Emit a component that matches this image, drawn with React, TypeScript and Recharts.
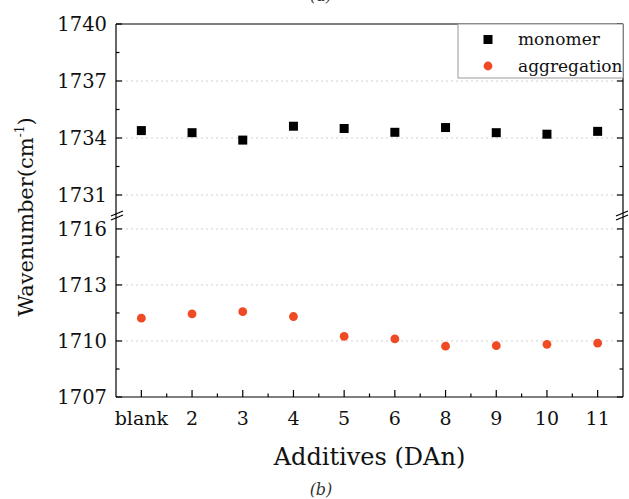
import React from "react";
import { CartesianGrid, Scatter, ScatterChart, XAxis, YAxis } from "recharts";

const CATEGORIES = ["blank", "2", "3", "4", "5", "6", "8", "9", "10", "11"];
const MONOMER = [1734.39, 1734.28, 1733.89, 1734.62, 1734.5, 1734.3, 1734.55, 1734.28, 1734.2, 1734.35];
const AGGREGATION = [1711.22, 1711.45, 1711.57, 1711.31, 1710.25, 1710.11, 1709.72, 1709.75, 1709.82, 1709.88];

const UPPER_TICKS = [1731, 1734, 1737, 1740];
const UPPER_MINOR = [1732.5, 1735.5, 1738.5];
const LOWER_TICKS = [1707, 1710, 1713, 1716];
const LOWER_MINOR = [1708.5, 1711.5, 1714.5];
const X_TICKS = [0, 1, 2, 3, 4, 5, 6, 7, 8, 9];
const X_MINOR = [0.5, 1.5, 2.5, 3.5, 4.5, 5.5, 6.5, 7.5, 8.5];

const FONT = "'DejaVu Serif', serif";
const TM = 9;
const W = 629;
const H = 499;

const monomerData = MONOMER.map((y, i) => ({ x: i, y }));
const aggregationData = AGGREGATION.map((y, i) => ({ x: i, y }));

const serif = (size: number, italic = false): React.CSSProperties => ({
  fontFamily: FONT,
  fontSize: size,
  fontStyle: italic ? "italic" : "normal",
});

function makeYTick(side: "left" | "right", majors: number[]) {
  return (props: any) => {
    const { x, y, payload } = props;
    const v = payload.value;
    const major = majors.includes(v);
    const ax = side === "left" ? x + TM : x - TM;
    const dir = side === "left" ? 1 : -1;
    const len = major ? 6 : 3.5;
    return (
      <g>
        <line x1={ax} x2={ax + dir * len} y1={y} y2={y} stroke="#000" strokeWidth={1.2} />
        {side === "left" && major && (
          <text x={x} y={y} dy="0.36em" textAnchor="end" style={serif(19.5)} fill="#111">
            {v}
          </text>
        )}
      </g>
    );
  };
}

const XTick = (props: any) => {
  const { x, y, payload } = props;
  const v = payload.value;
  const major = Number.isInteger(v);
  const ay = y - TM;
  return (
    <g>
      <line x1={x} x2={x} y1={ay} y2={ay - (major ? 7 : 3.5)} stroke="#000" strokeWidth={1.2} />
      {major && (
        <text x={x} y={ay + 28} textAnchor="middle" style={serif(19)} fill="#111">
          {CATEGORIES[v]}
        </text>
      )}
    </g>
  );
};

const SquareShape = (props: any) => (
  <rect x={props.cx - 4.5} y={props.cy - 4.5} width={9} height={9} fill="#000" />
);
const CircleShape = (props: any) => <circle cx={props.cx} cy={props.cy} r={4.4} fill="#F04A24" />;

const axisLine = { stroke: "#000", strokeWidth: 1.2 };

export default function App() {
  const upperTicks = [...UPPER_TICKS, ...UPPER_MINOR].sort((a, b) => a - b);
  const lowerTicks = [...LOWER_TICKS, ...LOWER_MINOR].sort((a, b) => a - b);
  const xTicks = [...X_TICKS, ...X_MINOR].sort((a, b) => a - b);
  const layer: React.CSSProperties = { position: "absolute", left: 0, top: 0 };

  return (
    <div style={{ position: "absolute", left: 0, top: 0, width: W, height: H, background: "#fff", fontFamily: FONT }}>
      <div style={layer}>
        <ScatterChart width={W} height={H} margin={{ top: 20, right: 0, bottom: 285, left: 66 }}>
          <CartesianGrid vertical={false} horizontalValues={[1731, 1734, 1737]} stroke="#d0d0d0" strokeDasharray="2 3" />
          <XAxis
            type="number"
            dataKey="x"
            orientation="top"
            domain={[-0.5, 9.5]}
            ticks={X_TICKS}
            height={4}
            tick={false}
            tickLine={false}
            axisLine={axisLine}
          />
          <YAxis
            type="number"
            dataKey="y"
            domain={[1730, 1740]}
            allowDataOverflow
            ticks={upperTicks}
            interval={0}
            width={50}
            tickSize={0}
            tickMargin={TM}
            tickLine={false}
            axisLine={axisLine}
            tick={makeYTick("left", UPPER_TICKS)}
          />
          <YAxis
            yAxisId="right"
            orientation="right"
            type="number"
            domain={[1730, 1740]}
            allowDataOverflow
            ticks={upperTicks}
            interval={0}
            width={6}
            tickSize={0}
            tickMargin={TM}
            tickLine={false}
            axisLine={axisLine}
            tick={makeYTick("right", UPPER_TICKS)}
          />
          <Scatter name="monomer" data={monomerData} shape={SquareShape} isAnimationActive={false} />
        </ScatterChart>
      </div>
      <div style={layer}>
        <ScatterChart width={W} height={H} margin={{ top: 214, right: 0, bottom: 42, left: 66 }}>
          <CartesianGrid vertical={false} horizontalValues={[1710, 1713, 1716]} stroke="#d0d0d0" strokeDasharray="2 3" />
          <XAxis
            type="number"
            dataKey="x"
            domain={[-0.5, 9.5]}
            ticks={xTicks}
            interval={0}
            height={60}
            tickSize={0}
            tickMargin={TM}
            tickLine={false}
            axisLine={axisLine}
            tick={XTick}
          />
          <YAxis
            type="number"
            dataKey="y"
            domain={[1707, 1716.8]}
            allowDataOverflow
            ticks={lowerTicks}
            interval={0}
            width={50}
            tickSize={0}
            tickMargin={TM}
            tickLine={false}
            axisLine={axisLine}
            tick={makeYTick("left", LOWER_TICKS)}
          />
          <YAxis
            yAxisId="right"
            orientation="right"
            type="number"
            domain={[1707, 1716.8]}
            allowDataOverflow
            ticks={lowerTicks}
            interval={0}
            width={6}
            tickSize={0}
            tickMargin={TM}
            tickLine={false}
            axisLine={axisLine}
            tick={makeYTick("right", LOWER_TICKS)}
          />
          <Scatter name="aggregation" data={aggregationData} shape={CircleShape} isAnimationActive={false} />
        </ScatterChart>
      </div>
      <svg width={W} height={H} style={{ ...layer, pointerEvents: "none" }}>
        {/* axis break marks */}
        <g stroke="#000" strokeWidth={1.2}>
          <line x1={111} y1={216} x2={123} y2={211} />
          <line x1={111} y1={220} x2={123} y2={215} />
          <line x1={616} y1={216} x2={628} y2={211} />
          <line x1={616} y1={220} x2={628} y2={215} />
        </g>
        {/* legend */}
        <rect x={458} y={24} width={165} height={54} fill="#fff" stroke="#999" strokeWidth={1} />
        <rect x={483.5} y={35} width={9} height={9} fill="#000" />
        <circle cx={488} cy={66} r={4.4} fill="#F04A24" />
        <text x={518} y={45} style={serif(17)} fill="#111">monomer</text>
        <text x={518} y={72} style={serif(17)} fill="#111">aggregation</text>
        {/* titles */}
        <text transform="translate(33,217) rotate(-90)" textAnchor="middle" style={serif(21)} fill="#111">
          Wavenumber(cm<tspan style={serif(12)} dy={-9}>-1</tspan>
          <tspan dy={9}>)</tspan>
        </text>
        <text x={369.5} y={465} textAnchor="middle" style={serif(24)} fill="#111">
          Additives (DAn)
        </text>
        <text x={321} y={495} textAnchor="middle" style={serif(16, true)} fill="#333">
          (b)
        </text>
        <text x={321} y={1} textAnchor="middle" style={serif(16, true)} fill="#333">
          (a)
        </text>
      </svg>
    </div>
  );
}
